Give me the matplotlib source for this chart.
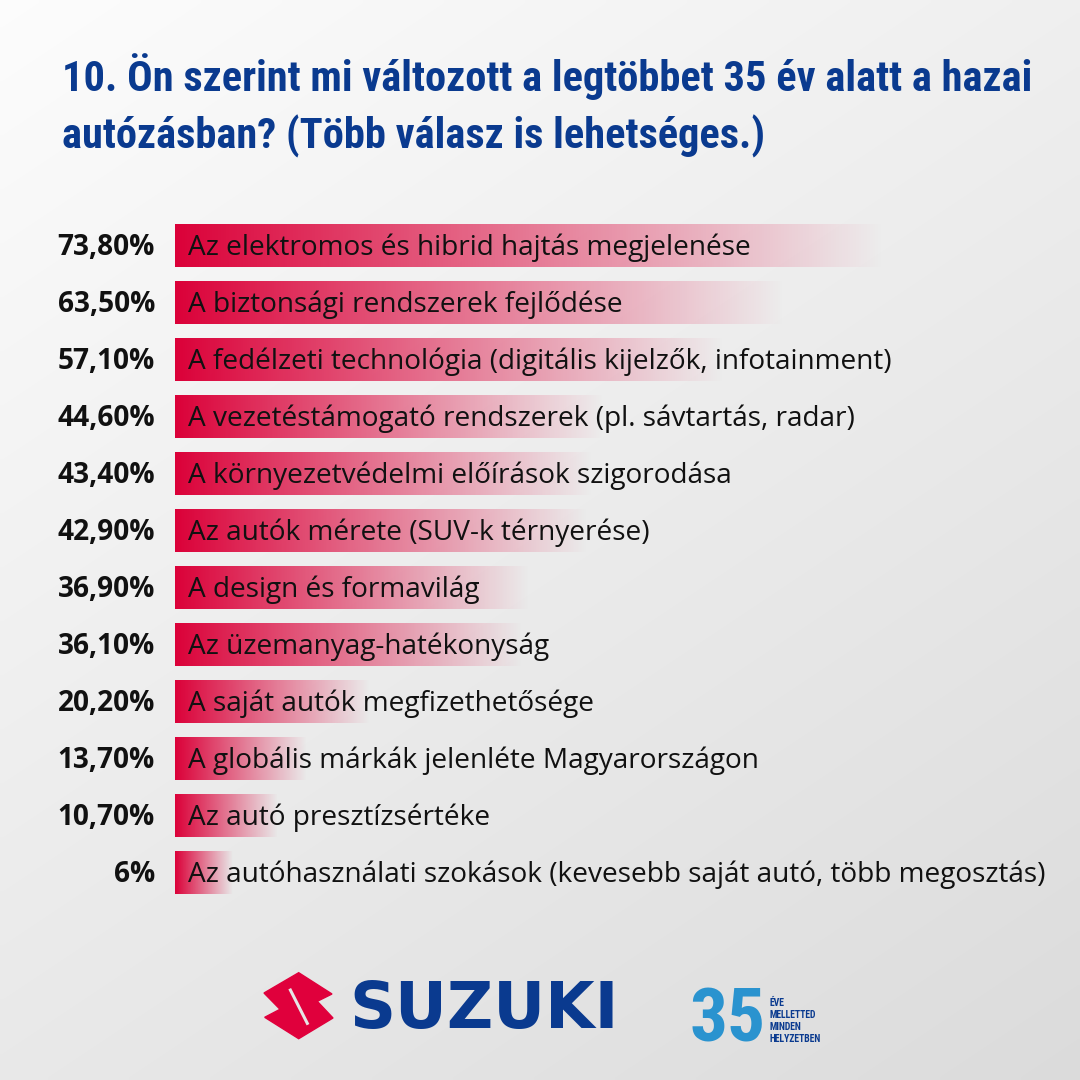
import matplotlib
matplotlib.use("Agg")
import numpy as np
import matplotlib.pyplot as plt
from matplotlib import font_manager
from matplotlib.patches import Polygon

TITLE_LINES = [
    "10. Ön szerint mi változott a legtöbbet 35 év alatt a hazai",
    "autózásban? (Több válasz is lehetséges.)",
]
CATEGORIES = [
    "Az elektromos és hibrid hajtás megjelenése",
    "A biztonsági rendszerek fejlődése",
    "A fedélzeti technológia (digitális kijelzők, infotainment)",
    "A vezetéstámogató rendszerek (pl. sávtartás, radar)",
    "A környezetvédelmi előírások szigorodása",
    "Az autók mérete (SUV-k térnyerése)",
    "A design és formavilág",
    "Az üzemanyag-hatékonyság",
    "A saját autók megfizethetősége",
    "A globális márkák jelenléte Magyarországon",
    "Az autó presztízsértéke",
    "Az autóhasználati szokások (kevesebb saját autó, több megosztás)",
]
VALUES = [73.8, 63.5, 57.1, 44.6, 43.4, 42.9, 36.9, 36.1, 20.2, 13.7, 10.7, 6.0]
VALUE_LABELS = ["73,80%", "63,50%", "57,10%", "44,60%", "43,40%", "42,90%",
                "36,90%", "36,10%", "20,20%", "13,70%", "10,70%", "6%"]

BLUE = "#0a3a8f"
CRIMSON = (0.86, 0.0, 0.22)
LIGHT_BLUE = "#2a93cf"


def pick_font(candidates):
    names = {f.name for f in font_manager.fontManager.ttflist}
    for c in candidates:
        if c in names:
            return c
    return "DejaVu Sans"


def fit_text(fig, t, max_px):
    """Shrink a text until it is no wider than max_px."""
    r = fig.canvas.get_renderer()
    w = t.get_window_extent(r).width
    if w > max_px:
        t.set_fontsize(t.get_fontsize() * max_px / w)
    return t.get_fontsize()


def main():
    fig = plt.figure(figsize=(10.8, 10.8), dpi=100)
    title_font = pick_font(["Roboto Condensed", "Liberation Sans Narrow",
                            "Open Sans Condensed", "DejaVu Sans"])
    body_font = pick_font(["Open Sans", "Noto Sans", "DejaVu Sans"])

    # background: light grey diagonal gradient
    bg = fig.add_axes([0, 0, 1, 1])
    bg.set_xlim(0, 1080)
    bg.set_ylim(1080, 0)
    bg.axis("off")
    gx, gy = np.meshgrid(np.linspace(0, 1, 200), np.linspace(0, 1, 200))
    shade = 0.99 - 0.13 * (0.4 * gx + 0.6 * gy)
    bg.imshow(np.dstack([shade] * 3), extent=(0, 1080, 1080, 0),
              aspect="auto", zorder=0, interpolation="bilinear")

    # title, both lines at the size that makes line 1 fit
    t1 = bg.text(62, 91, TITLE_LINES[0], fontsize=40, fontweight=900,
                 family=title_font, color=BLUE, va="baseline", ha="left")
    size = fit_text(fig, t1, 970)
    bg.text(62, 149, TITLE_LINES[1], fontsize=size, fontweight=900,
            family=title_font, color=BLUE, va="baseline", ha="left")

    # chart
    px_per = 9.62
    ax = fig.add_axes([175 / 1080, (1080 - 901.5) / 1080,
                       80 * px_per / 1080, 684 / 1080])
    ax.patch.set_alpha(0)
    h = 0.74
    grad = np.zeros((1, 256, 4))
    grad[..., :3] = CRIMSON
    grad[..., 3] = np.linspace(1, 0, 256)
    for i, (cat, v, lab) in enumerate(zip(CATEGORIES, VALUES, VALUE_LABELS)):
        ax.imshow(grad, extent=(0, v, i + h / 2, i - h / 2), aspect="auto",
                  interpolation="bilinear", zorder=1)
        ax.annotate(cat, xy=(0, i), xytext=(13, -9), textcoords="offset pixels",
                    ha="left", va="baseline", fontsize=20.2, family=body_font,
                    color="#111111", zorder=3, annotation_clip=False)
        ax.annotate(lab, xy=(0, i), xytext=(-20, -9), textcoords="offset pixels",
                    ha="right", va="baseline", fontsize=20.2, fontweight="bold",
                    family=body_font, color="#111111", annotation_clip=False)
    ax.set_xlim(0, 80)
    ax.set_ylim(len(VALUES) - 0.5, -0.5)
    ax.axis("off")

    # Suzuki logo
    s_pts = [(298.7, 972.7), (332, 994), (317.3, 1001.3), (333, 1018),
             (298.7, 1038.7), (264.7, 1017.3), (280, 1009.3), (264, 993)]
    bg.add_patch(Polygon(s_pts, closed=True, color="#e0003c", zorder=2))
    bg.plot([289.7, 308], [988.7, 1024.7], color="#e6e6e6", lw=2.2,
            solid_capstyle="butt", zorder=3)
    t = bg.text(349, 1028, "SUZUKI", fontsize=46, fontweight="bold",
                family="DejaVu Sans", color=BLUE, va="baseline", ha="left")
    fit_text(fig, t, 277)

    # 35 years badge
    t = bg.text(690, 1042, "35", fontsize=62, fontweight=900,
                family=title_font, color=LIGHT_BLUE, va="baseline", ha="left")
    fit_text(fig, t, 76)
    for word, base in zip(["ÉVE", "MELLETTED", "MINDEN", "HELYZETBEN"],
                          [1006, 1018, 1030, 1042]):
        bg.text(770, base, word, fontsize=7, fontweight="bold",
                family=title_font, color=BLUE, va="baseline", ha="left")

    fig.savefig("out.png", dpi=100)


if __name__ == "__main__":
    main()
